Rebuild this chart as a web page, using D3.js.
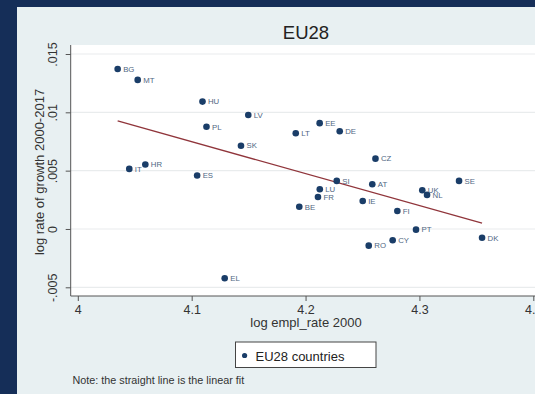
<!DOCTYPE html>
<html>
<head>
<meta charset="utf-8">
<script src="https://cdn.jsdelivr.net/npm/d3@7"></script>
<style>
  html, body { margin: 0; padding: 0; background: #152e58; }
  svg { display: block; }
  text { font-family: "Liberation Sans", Arial, sans-serif; }
</style>
</head>
<body>
<svg id="chart" width="535" height="394"></svg>
<script>
// Country codes, log employment rate in 2000, log growth rate 2000-2017
const countries = ["BG","MT","HU","LV","PL","SK","HR","IT","ES","EL","LT","EE","DE","SI",
                   "LU","CZ","AT","SE","UK","NL","FR","IE","BE","FI","PT","CY","RO","DK"];
const emplRate2000 = [4.0350,4.0526,4.1095,4.1497,4.1130,4.1433,4.0593,4.0452,4.1048,4.1290,
                      4.1914,4.2124,4.2300,4.2274,4.2125,4.2614,4.2586,4.3348,4.3025,4.3067,
                      4.2109,4.2502,4.1945,4.2806,4.2970,4.2765,4.2555,4.3550];
const growthRate = [0.01372,0.01278,0.01092,0.00977,0.00876,0.00714,0.00553,0.00515,0.00459,-0.00423,
                    0.00821,0.00907,0.00838,0.00412,0.00341,0.00603,0.00383,0.00412,0.00332,0.00292,
                    0.00274,0.00240,0.00191,0.00154,-0.00006,-0.00097,-0.00143,-0.00075];

const xTicks = [4, 4.1, 4.2, 4.3, 4.4];
const xTickLabels = ["4", "4.1", "4.2", "4.3", "4.4"];
const yTicks = [-0.005, 0, 0.005, 0.01, 0.015];
const yTickLabels = ["-.005", "0", ".005", ".01", ".015"];

const titleText = "EU28";
const xTitle = "log empl_rate 2000";
const yTitle = "log rate of growth 2000-2017";
const legendText = "EU28 countries";
const noteText = "Note: the straight line is the linear fit";

const points = countries.map((c, i) => ({ code: c, x: emplRate2000[i], y: growthRate[i] }));

const svg = d3.select("#chart");
const W = 535, H = 394;

const axisX0 = 70.7, axisY0 = 296, plotTop = 45;
const x = d3.scaleLinear().domain([4, 4.4]).range([77.8, 533.3]);
const y = d3.scaleLinear().domain([-0.005, 0.015]).range([287.3, 54]);

const ink = "#333333";
const navy = "#1a3d68";

// Outer graph region
svg.append("rect").attr("x", 17).attr("y", 7).attr("width", W - 17).attr("height", H - 7)
  .attr("fill", "#e8f0f2");

// Plot region
svg.append("rect").attr("x", axisX0).attr("y", plotTop)
  .attr("width", W - axisX0).attr("height", axisY0 - plotTop).attr("fill", "#ffffff");

// Horizontal grid lines
svg.append("g").selectAll("line").data(yTicks).join("line")
  .attr("x1", axisX0).attr("x2", W)
  .attr("y1", d => y(d)).attr("y2", d => y(d))
  .attr("stroke", "#e9eced").attr("stroke-width", 1.2);

// X axis
const gx = svg.append("g").attr("transform", `translate(0,${axisY0})`)
  .call(d3.axisBottom(x).tickValues(xTicks).tickSize(5).tickPadding(4)
    .tickFormat((d, i) => xTickLabels[i]));
gx.select(".domain").remove();
gx.selectAll(".tick line").attr("stroke", "#555").attr("stroke-width", 1);
gx.selectAll(".tick text").attr("fill", ink).attr("font-size", 12.5)
  .attr("font-family", "Liberation Sans, Arial, sans-serif");
svg.append("line").attr("x1", axisX0).attr("x2", W).attr("y1", axisY0).attr("y2", axisY0)
  .attr("stroke", "#555").attr("stroke-width", 1);

// Y axis (rotated tick labels)
const gy = svg.append("g").attr("transform", `translate(${axisX0},0)`)
  .call(d3.axisLeft(y).tickValues(yTicks).tickSize(5)
    .tickFormat((d, i) => yTickLabels[i]));
gy.select(".domain").remove();
gy.selectAll(".tick line").attr("stroke", "#555").attr("stroke-width", 1);
gy.selectAll(".tick text")
  .attr("fill", ink).attr("font-size", 12.5)
  .attr("font-family", "Liberation Sans, Arial, sans-serif")
  .attr("transform", "rotate(-90)")
  .attr("text-anchor", "middle")
  .attr("x", 0).attr("y", -13.5).attr("dy", 0);
svg.append("line").attr("x1", axisX0).attr("x2", axisX0).attr("y1", plotTop).attr("y2", axisY0)
  .attr("stroke", "#555").attr("stroke-width", 1);

// Linear fit (ordinary least squares)
const mx = d3.mean(emplRate2000), my = d3.mean(growthRate);
const sxy = d3.sum(emplRate2000, (v, i) => (v - mx) * (growthRate[i] - my));
const sxx = d3.sum(emplRate2000, v => (v - mx) * (v - mx));
const slope = sxy / sxx, intercept = my - slope * mx;
const [xmin, xmax] = d3.extent(emplRate2000);
svg.append("line")
  .attr("x1", x(xmin)).attr("y1", y(intercept + slope * xmin))
  .attr("x2", x(xmax)).attr("y2", y(intercept + slope * xmax))
  .attr("stroke", "#90353b").attr("stroke-width", 1.3);

// Country markers and labels
const pts = svg.append("g");
pts.selectAll("circle").data(points).join("circle")
  .attr("cx", d => x(d.x)).attr("cy", d => y(d.y)).attr("r", 3.3)
  .attr("fill", navy);
pts.selectAll("text").data(points).join("text")
  .attr("x", d => x(d.x) + 5.5).attr("y", d => y(d.y))
  .attr("dy", "0.36em")
  .attr("font-size", 7.8).attr("fill", "#4f6682")
  .text(d => d.code);

// Title
svg.append("text").attr("x", 306).attr("y", 38.5).attr("text-anchor", "middle")
  .attr("font-size", 18.5).attr("fill", "#222").text(titleText);

// Axis titles
svg.append("text").attr("x", 306).attr("y", 327).attr("text-anchor", "middle")
  .attr("font-size", 13).attr("fill", ink).text(xTitle);
svg.append("text").attr("transform", "translate(44,172) rotate(-90)")
  .attr("text-anchor", "middle").attr("font-size", 13).attr("fill", ink).text(yTitle);

// Legend
const lg = svg.append("g");
lg.append("rect").attr("x", 235.5).attr("y", 342).attr("width", 140.5).attr("height", 25.5)
  .attr("fill", "#ffffff").attr("stroke", "#444").attr("stroke-width", 1);
lg.append("circle").attr("cx", 244.6).attr("cy", 355.5).attr("r", 2.6).attr("fill", navy);
lg.append("text").attr("x", 255.5).attr("y", 360.5).attr("font-size", 13).attr("fill", "#222")
  .text(legendText);

// Note
svg.append("text").attr("x", 72.5).attr("y", 383.5).attr("font-size", 10.8).attr("fill", ink)
  .text(noteText);
</script>
</body>
</html>
